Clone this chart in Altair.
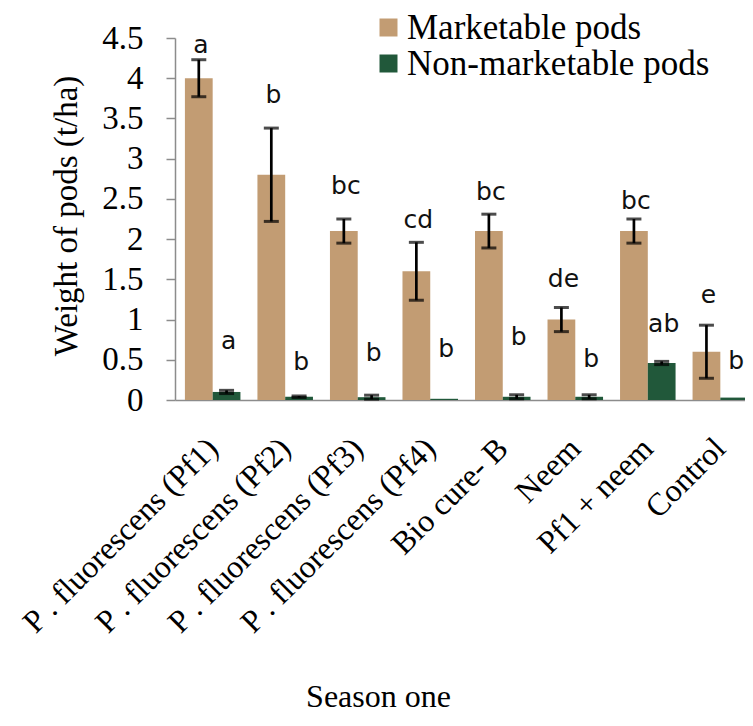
import altair as alt
import pandas as pd

treatments = [
    "P . fluorescens (Pf1)",
    "P . fluorescens (Pf2)",
    "P . fluorescens (Pf3)",
    "P . fluorescens (Pf4)",
    "Bio cure- B",
    "Neem",
    "Pf1 + neem",
    "Control",
]
series = ["Marketable pods", "Non-marketable pods"]

marketable = [4.0, 2.8, 2.1, 1.6, 2.1, 1.0, 2.1, 0.6]
marketable_err = [0.23, 0.58, 0.15, 0.36, 0.21, 0.15, 0.15, 0.33]
marketable_letters = ["a", "b", "bc", "cd", "bc", "de", "bc", "e"]
marketable_letter_y = [4.31, 3.69, 2.56, 2.14, 2.49, 1.40, 2.38, 1.21]

nonmarketable = [0.10, 0.04, 0.035, 0.015, 0.04, 0.04, 0.46, 0.03]
nonmarketable_err = [0.02, 0.01, 0.025, 0.0, 0.025, 0.025, 0.02, 0.0]
nonmarketable_letters = ["a", "b", "b", "b", "b", "b", "ab", "b"]
nonmarketable_letter_y = [0.64, 0.37, 0.48, 0.53, 0.68, 0.41, 0.85, 0.39]

y_ticks = [0, 0.5, 1, 1.5, 2, 2.5, 3, 3.5, 4, 4.5]
y_title = ["Weight of pods (t/ha)"]
x_title = "Season one"

rows = []
for i, t in enumerate(treatments):
    rows.append(dict(treatment=t, series=series[0], value=marketable[i],
                     lo=marketable[i] - marketable_err[i], hi=marketable[i] + marketable_err[i],
                     err=marketable_err[i], letter=marketable_letters[i], ly=marketable_letter_y[i]))
    rows.append(dict(treatment=t, series=series[1], value=nonmarketable[i],
                     lo=nonmarketable[i] - nonmarketable_err[i], hi=nonmarketable[i] + nonmarketable_err[i],
                     err=nonmarketable_err[i], letter=nonmarketable_letters[i], ly=nonmarketable_letter_y[i]))
df = pd.DataFrame(rows)

serif = "Liberation Serif, Times New Roman, serif"
sans = "DejaVu Sans"
gray = "#8c8c8c"

x_enc = alt.X(
    "treatment:N",
    sort=treatments,
    scale=alt.Scale(range=[0, 583], paddingInner=0.2344, paddingOuter=0.1367),
    axis=alt.Axis(
        title=None, ticks=False, domainColor=gray, domainWidth=1.5,
        labelAngle=-45, labelAlign="right", labelBaseline="middle",
        labelFont=serif, labelFontSize=32, labelColor="black",
        labelPadding=43, labelLimit=500,
    ),
)
x_plain = alt.X("treatment:N", sort=treatments, title=None)
xoff = alt.XOffset("series:N", sort=series, scale=alt.Scale(paddingInner=0, paddingOuter=0))
y_scale = alt.Scale(domain=[0, 4.5], nice=False)

base = alt.Chart(df)

bars = base.mark_bar().encode(
    x=x_enc,
    xOffset=xoff,
    y=alt.Y(
        "value:Q",
        scale=y_scale,
        title=None,
        axis=alt.Axis(
            values=y_ticks, format="~g", grid=False,
            domainColor=gray, domainWidth=1.5, tickColor=gray, tickWidth=1.5, tickSize=9,
            labelFont=serif, labelFontSize=33, labelColor="black", labelPadding=23,
        ),
    ),
    color=alt.Color(
        "series:N",
        sort=series,
        scale=alt.Scale(domain=series, range=["#C29C73", "#21583A"]),
        legend=alt.Legend(
            orient="none", legendX=196, legendY=-28, title=None,
            symbolType="square", symbolSize=324, symbolStrokeWidth=0,
            labelFont=serif, labelFontSize=35, labelColor="black", labelLimit=600,
            labelOffset=1, rowPadding=0, padding=0,
        ),
    ),
)

err = base.transform_filter("datum.err > 0").mark_rule(color="black", strokeWidth=2.7).encode(
    x=x_plain,
    xOffset=xoff,
    y=alt.Y("lo:Q", scale=y_scale, title=None),
    y2="hi:Q",
)

cap_lo = base.transform_filter("datum.err > 0").mark_tick(color="black", thickness=3, size=15).encode(
    x=x_plain,
    xOffset=xoff,
    y=alt.Y("lo:Q", scale=y_scale, title=None),
)
cap_hi = base.transform_filter("datum.err > 0").mark_tick(color="black", thickness=3, size=15).encode(
    x=x_plain,
    xOffset=xoff,
    y=alt.Y("hi:Q", scale=y_scale, title=None),
)

letters = base.mark_text(font=sans, fontSize=25, color="#111111", baseline="alphabetic", dx=2).encode(
    x=x_plain,
    xOffset=xoff,
    y=alt.Y("ly:Q", scale=y_scale, title=None),
    text="letter:N",
)

ytitle = alt.Chart(pd.DataFrame({"t": y_title})).mark_text(
    font=serif, fontSize=33, color="black", angle=270, align="center", baseline="middle"
).encode(text="t:N", x=alt.value(-108), y=alt.value(178))

chart = (
    alt.layer(bars, err, cap_lo, cap_hi, letters, ytitle)
    .properties(
        width=569,
        height=362,
        autosize=alt.AutoSizeParams(type="none"),
        padding={"left": 167, "top": 30, "right": 1, "bottom": 316},
        title=alt.TitleParams(
            x_title, orient="bottom", anchor="middle", dx=-81, offset=43,
            font=serif, fontSize=32, fontWeight="normal", color="black",
        ),
    )
    .configure_view(stroke=None)
)

chart.save("out.html", embed_options={"renderer": "svg", "actions": False})
